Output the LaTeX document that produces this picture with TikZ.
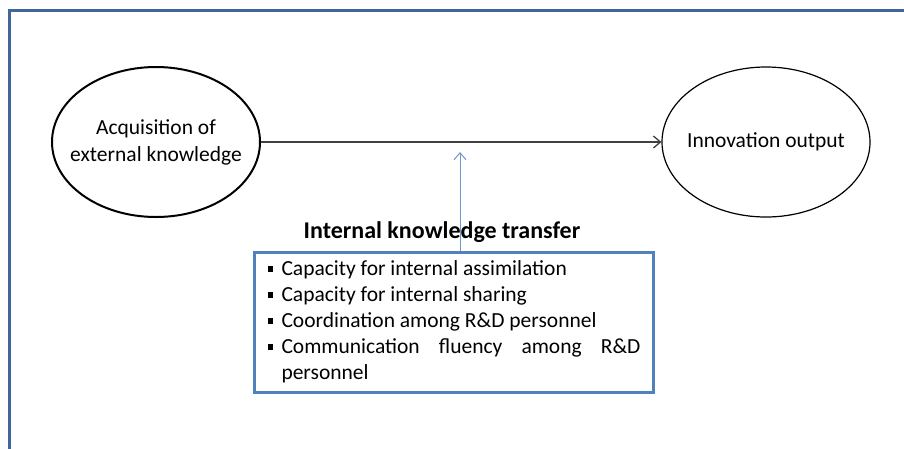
\documentclass[tikz,border=0pt]{standalone}
\usepackage{fontspec}
\setmainfont{Carlito}
\usetikzlibrary{arrows.meta,positioning,calc,shapes.geometric}
\definecolor{frameblue}{RGB}{65,103,154}
\definecolor{boxblue}{RGB}{79,129,189}
\definecolor{linkblue}{RGB}{110,150,205}
\definecolor{linkgray}{RGB}{64,64,64}
\newcommand{\sqitem}[1]{\par\hangindent=14pt\hangafter=1\noindent
  \makebox[14pt][l]{\rule[4pt]{5.5pt}{5.5pt}}#1}

\begin{document}
\begin{tikzpicture}[x=1pt,y=-1pt,
  font=\fontsize{21.5}{27}\selectfont,
  construct/.style={ellipse,draw=black,line width=1.2pt,minimum width=208pt,
    minimum height=150pt,inner xsep=-15pt,inner ysep=0pt,align=center},
  listbox/.style={draw=boxblue,line width=3pt,text width=373pt,inner xsep=13pt,
    inner ysep=-3pt,align=justify,font=\fontsize{21.5}{26}\selectfont},
  line/.style={-{Straight Barb[length=7pt,width=12pt]},line width=1.3pt,draw=linkgray},
  moderator/.style={-{Straight Barb[length=7pt,width=12pt]},line width=1pt,draw=linkblue},
  frame/.style={draw=frameblue,line width=3pt}]
\useasboundingbox (0,0) rectangle (904,448);
\draw[frame] (9.5,450) |- (906,10);
\node[construct,line width=2pt] (acq) at (156,142) {Acquisition of\\external knowledge};
\node[construct] (innov) at (766,142) {Innovation output};
\node[listbox,anchor=north west] (box) at (253,251) {%
\sqitem{Capacity for internal assimilation}
\sqitem{Capacity for internal sharing}
\sqitem{Coordination among R\&D personnel}
\sqitem{Communication fluency among R\&D\linebreak personnel}\par
\kern12.5pt\hrule height 0pt};
\node[font=\fontsize{24}{28}\selectfont\bfseries,above=5pt of box.north,xshift=-12pt] (title) {Internal knowledge transfer};
\coordinate (meet) at (460,152);
\draw[line] (acq) -- (innov);
\draw[moderator] (box.north -| meet) -- (meet);
\end{tikzpicture}
\end{document}
